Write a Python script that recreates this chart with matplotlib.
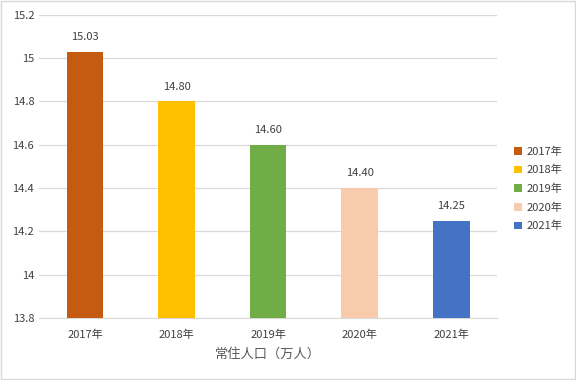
import matplotlib
matplotlib.use("Agg")
import matplotlib.pyplot as plt
from matplotlib.patches import Patch

plt.rcParams['font.family'] = ['Noto Sans CJK SC', 'DejaVu Sans']

years = ['2017年', '2018年', '2019年', '2020年', '2021年']
values = [15.03, 14.80, 14.60, 14.40, 14.25]
colors = ['#C55A11', '#FFC000', '#70AD47', '#F8CBAD', '#4472C4']
yticks = [13.8, 14.0, 14.2, 14.4, 14.6, 14.8, 15.0, 15.2]
ytick_labels = ['13.8', '14', '14.2', '14.4', '14.6', '14.8', '15', '15.2']

fig = plt.figure(figsize=(5.76, 3.8), dpi=100)
ax = fig.add_axes([0.068, 0.163, 0.795, 0.798])
fig.patches.append(plt.Rectangle((0.002, 0.003), 0.996, 0.994, transform=fig.transFigure,
                                 fill=False, edgecolor='#D9D9D9', linewidth=1))

x = range(len(years))
bars = ax.bar(x, values, width=0.4, color=colors, bottom=0, zorder=3)
for xi, v in zip(x, values):
    ax.annotate('%.2f' % v, (xi, v), xytext=(0, 7), textcoords='offset points',
                ha='center', va='bottom', fontsize=8, color='#404040')

ax.set_ylim(13.8, 15.2)
ax.set_xlim(-0.5, 4.5)
ax.set_yticks(yticks)
ax.set_yticklabels(ytick_labels)
ax.set_xticks(list(x))
ax.set_xticklabels(years)
ax.tick_params(axis='both', length=0, labelsize=8, colors='#404040')
ax.tick_params(axis='x', pad=8)
ax.grid(axis='y', color='#D9D9D9', linewidth=0.9, zorder=0)
for s in ['top', 'right', 'left']:
    ax.spines[s].set_visible(False)
ax.spines['bottom'].set_color('#D9D9D9')
ax.set_xlabel('常住人口（万人）', fontsize=9.5, color='#595959', labelpad=6)

handles = [Patch(facecolor=c, label=y) for c, y in zip(colors, years)]
fig.legend(handles=handles, loc='center left', bbox_to_anchor=(0.893, 0.503), frameon=False,
           fontsize=8, handlelength=0.7, handleheight=0.7, handletextpad=0.4, labelspacing=0.75,
           labelcolor='#404040', borderpad=0, borderaxespad=0)

fig.savefig('out.png', dpi=100)
